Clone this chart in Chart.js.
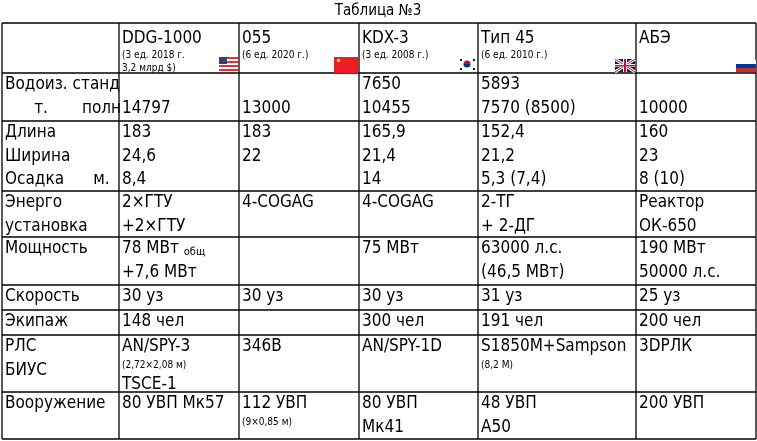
<!DOCTYPE html>
<html>
<head>
  <meta charset="UTF-8">
  <title>Таблица №3</title>
  <script src="https://cdn.jsdelivr.net/npm/chart.js"></script>
  <style>
    body { margin: 0; background: white; }
    #wrap { width: 757px; height: 441px; }
  </style>
</head>
<body>
  <div id="wrap"><canvas id="tbl"></canvas></div>
  <script>
    // "_" prefix = small line, "|" = inline small suffix
    const title = 'Таблица №3';
    const colEdges = [2, 119, 239, 359, 478, 636, 756];
    const rowEdges = [23, 73, 121, 191, 237, 285, 310, 335, 392, 439];
    const flags = ['', 'us', 'cn', 'kr', 'uk', 'ru'];

    const header = [[''], ['DDG-1000', '_(3 ед. 2018 г.', '_3,2 млрд $)'], ['055', '_(6 ед. 2020 г.)'],
      ['KDX-3', '_(3 ед. 2008 г.)'], ['Тип 45', '_(6 ед. 2010 г.)'], ['АБЭ']];
    const rowDisp = [['Водоиз. станд', '      т.       полн'], ['', '14797'], ['', '13000'], ['7650', '10455'], ['5893', '7570 (8500)'], ['', '10000']];
    const rowDims = [['Длина', 'Ширина', 'Осадка      м.'], ['183', '24,6', '8,4'], ['183', '22'], ['165,9', '21,4', '14'], ['152,4', '21,2', '5,3 (7,4)'], ['160', '23', '8 (10)']];
    const rowPower = [['Энерго', 'установка'], ['2×ГТУ', '+2×ГТУ'], ['4-COGAG'], ['4-COGAG'], ['2-ТГ', '+ 2-ДГ'], ['Реактор', 'ОК-650']];
    const rowOutput = [['Мощность'], ['78 МВт|общ', '+7,6 МВт'], [''], ['75 МВт'], ['63000 л.с.', '(46,5 МВт)'], ['190 МВт', '50000 л.с.']];
    const rowSpeed = [['Скорость'], ['30 уз'], ['30 уз'], ['30 уз'], ['31 уз'], ['25 уз']];
    const rowCrew = [['Экипаж'], ['148 чел'], [''], ['300 чел'], ['191 чел'], ['200 чел']];
    const rowRadar = [['РЛС', 'БИУС'], ['AN/SPY-3', '_(2,72×2,08 м)', 'TSCE-1'], ['346B'], ['AN/SPY-1D'], ['S1850M+Sampson', '_(8,2 М)'], ['3DРЛК']];
    const rowArms = [['Вооружение'], ['80 УВП Мк57'], ['112 УВП', '_(9×0,85 м)'], ['80 УВП', 'Мк41'], ['48 УВП', 'А50'], ['200 УВП']];
    const rows = [header, rowDisp, rowDims, rowPower, rowOutput, rowSpeed, rowCrew, rowRadar, rowArms];

    const FONT = "'Liberation Sans Narrow', 'DejaVu Sans Condensed', sans-serif";

    function drawFlag(c, kind, x, y) {
      // x,y = bottom-right pixel corner of cell
      if (kind === 'us') {
        for (let i = 0; i < 7; i++) { c.fillStyle = i % 2 ? '#fff' : '#d33'; c.fillRect(x - 20, y - 16 + i * 2, 19, 2); }
        c.fillStyle = '#3c3b6e'; c.fillRect(x - 20, y - 16, 8, 7);
      } else if (kind === 'cn') {
        c.fillStyle = '#ee1c25'; c.fillRect(x - 25, y - 16, 24, 16);
        c.fillStyle = '#ff0'; c.fillRect(x - 22, y - 14, 3, 3);
      } else if (kind === 'kr') {
        c.fillStyle = '#fff'; c.fillRect(x - 21, y - 16, 19, 14);
        c.beginPath(); c.arc(x - 11, y - 9, 3.5, Math.PI, 0); c.fillStyle = '#c60c30'; c.fill();
        c.beginPath(); c.arc(x - 11, y - 9, 3.5, 0, Math.PI); c.fillStyle = '#003478'; c.fill();
        c.fillStyle = '#222'; [[-18, -14], [-5, -14], [-18, -5], [-5, -5]].forEach(p => c.fillRect(x + p[0], y + p[1], 2, 2));
      } else if (kind === 'uk') {
        const w = 20, h = 13, l = x - 21, t = y - 14;
        c.fillStyle = '#012169'; c.fillRect(l, t, w, h);
        c.strokeStyle = '#fff'; c.lineWidth = 3;
        c.beginPath(); c.moveTo(l, t); c.lineTo(l + w, t + h); c.moveTo(l + w, t); c.lineTo(l, t + h); c.stroke();
        c.strokeStyle = '#c8102e'; c.lineWidth = 1;
        c.beginPath(); c.moveTo(l, t); c.lineTo(l + w, t + h); c.moveTo(l + w, t); c.lineTo(l, t + h); c.stroke();
        c.fillStyle = '#fff'; c.fillRect(l + 8, t, 4, h); c.fillRect(l, t + 5, w, 3);
        c.fillStyle = '#c8102e'; c.fillRect(l + 9, t, 2, h); c.fillRect(l, t + 6, w, 1.5);
      } else if (kind === 'ru') {
        const l = x - 20, t = y - 13;
        c.fillStyle = '#fff'; c.fillRect(l, t, 20, 4);
        c.fillStyle = '#0039a6'; c.fillRect(l, t + 4, 20, 4);
        c.fillStyle = '#d52b1e'; c.fillRect(l, t + 8, 20, 4);
      }
    }

    const tablePlugin = {
      id: 'table',
      afterDraw(chart) {
        const c = chart.ctx, xs = chart.scales.x, ys = chart.scales.y;
        const px = v => xs.getPixelForValue(v), py = v => ys.getPixelForValue(v);
        c.save();
        c.fillStyle = '#000'; c.textAlign = 'center'; c.textBaseline = 'middle';
        c.font = '15px ' + FONT;
        c.fillText(title, px(378), py(11));
        c.strokeStyle = '#000'; c.lineWidth = 1.3;
        rowEdges.forEach(r => { c.beginPath(); c.moveTo(px(colEdges[0]), py(r)); c.lineTo(px(colEdges[6]), py(r)); c.stroke(); });
        colEdges.forEach(e => { c.beginPath(); c.moveTo(px(e), py(rowEdges[0])); c.lineTo(px(e), py(rowEdges[9])); c.stroke(); });
        c.textAlign = 'left';
        rows.forEach((row, ri) => {
          row.forEach((cell, ci) => {
            let y = rowEdges[ri] + (ri === 0 ? 6 : 0);
            const x = colEdges[ci] + 3;
            cell.forEach(line => {
              const small = line.startsWith('_');
              const h = small ? (ri === 0 ? 13 : 14) : (ri === 0 ? 20 : 23.5);
              const cy = y + h / 2;
              c.fillStyle = '#000';
              if (small) {
                c.font = '10px ' + FONT; c.fillText(line.slice(1), px(x), py(cy));
              } else {
                const [main, sub] = line.split('|');
                c.font = '17px ' + FONT; c.fillText(main, px(x), py(cy));
                if (sub) {
                  const w = c.measureText(main + ' ').width;
                  c.font = '11px ' + FONT; c.fillText(sub, px(x) + w, py(cy + 3));
                }
              }
              y += h;
            });
          });
        });
        flags.forEach((f, ci) => { if (f) drawFlag(c, f, px(colEdges[ci + 1]), py(rowEdges[1])); });
        c.restore();
      }
    };

    new Chart(document.getElementById('tbl'), {
      type: 'scatter',
      data: { datasets: [{ data: [] }] },
      options: {
        responsive: true, maintainAspectRatio: false, animation: false,
        layout: { padding: 0 },
        plugins: { legend: { display: false }, tooltip: { enabled: false } },
        scales: {
          x: { type: 'linear', min: 0, max: 757, display: false },
          y: { type: 'linear', min: 0, max: 441, reverse: true, display: false }
        }
      },
      plugins: [tablePlugin]
    });
  </script>
</body>
</html>
